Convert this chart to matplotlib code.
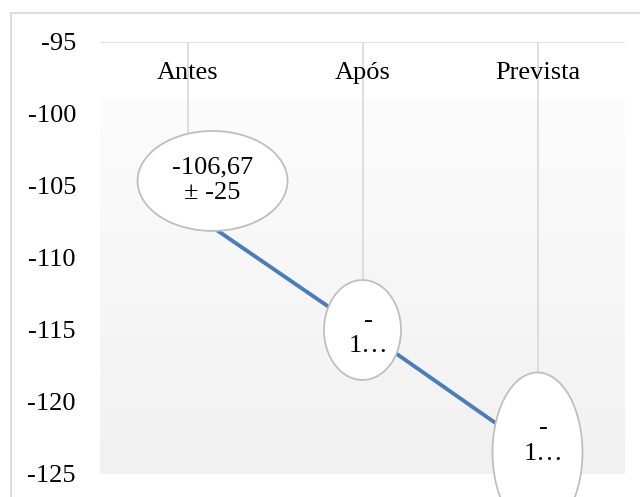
import numpy as np
import matplotlib
matplotlib.use("Agg")
import matplotlib.pyplot as plt
from matplotlib.patches import Ellipse
from matplotlib.lines import Line2D

# Series data
categories = ["Antes", "Após", "Prevista"]
values = [-106.67, -115.0, -123.5]
point_labels = ["-106,67\n± -25", "-\n1…", "-\n1…"]
y_ticks = [-95, -100, -105, -110, -115, -120, -125]
y_tick_labels = ["-95", "-100", "-105", "-110", "-115", "-120", "-125"]

plt.rcParams["font.family"] = ["Liberation Serif", "DejaVu Serif"]
FS = 19

W, H, DPI = 640, 497, 100
fig = plt.figure(figsize=(W / DPI, H / DPI), dpi=DPI)
ax = fig.add_axes([100 / W, (H - 474) / H, 525 / W, 432 / H])

x = np.arange(len(categories))
ax.set_xlim(-0.5, len(categories) - 0.5)
ax.set_ylim(-125, -95)

# plot-area gradient fill
grad = np.linspace(0, 1, 256).reshape(-1, 1)
ax.imshow(grad, extent=(-0.5, len(categories) - 0.5, -125, -98.9),
          cmap=matplotlib.colors.LinearSegmentedColormap.from_list(
              "pa", ["#f1f1f1", "#fcfcfc"]),
          origin="lower", aspect="auto", zorder=0)

# category axis line at the top
ax.axhline(-95, color="#d9d9d9", lw=1.2, zorder=1)

# drop lines from each point up to the category axis
ax.vlines(x, values, -95, color="#d9d9d9", lw=1.2, zorder=1)

# main series line
ax.plot(x, values, color="#4a7ebb", lw=2.8, solid_capstyle="round", zorder=2)

# data label callouts: (dx, dy) centre offsets, width, height in data units
ell_specs = [
    (0.143, 2.02, 0.857, 6.94),
    (0.0, 0.0, 0.44, 6.94),
    (0.0, 0.0, 0.514, 11.1),
]
text_offsets = [(0.143, 2.1), (0.034, -0.25), (0.034, 0.8)]
for xi, v, lab, (dx, dy, w, h), (tx, ty) in zip(x, values, point_labels,
                                                 ell_specs, text_offsets):
    e = Ellipse((xi + dx, v + dy), w, h, facecolor="white",
                edgecolor="#bfbfbf", lw=1.3, zorder=3, clip_on=False)
    ax.add_patch(e)
    ax.text(xi + tx, v + ty, lab, ha="center", va="center", fontsize=FS,
            linespacing=1.2, zorder=4, clip_on=False)

# category labels inside the plot under the top axis
for xi, c in zip(x, categories):
    ax.text(xi, -97.15, c, ha="center", va="center", fontsize=FS, zorder=4)

ax.set_xticks([])
ax.set_yticks(y_ticks)
ax.set_yticklabels(y_tick_labels, fontsize=FS)
ax.tick_params(axis="y", length=0, pad=17.3)
for s in ax.spines.values():
    s.set_visible(False)
ax.patch.set_alpha(0)

# chart frame (top and left edges visible)
fig.add_artist(Line2D([11 / W, 1.0], [1 - 12.7 / H, 1 - 12.7 / H],
                      transform=fig.transFigure, color="#d9d9d9", lw=1.3))
fig.add_artist(Line2D([11 / W, 11 / W], [0.0, 1 - 12.7 / H],
                      transform=fig.transFigure, color="#d9d9d9", lw=1.3))

fig.savefig("out.png", dpi=DPI)
